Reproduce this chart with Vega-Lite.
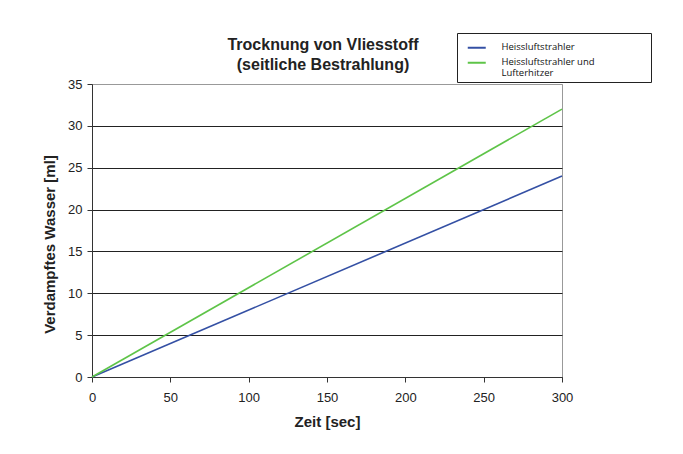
{
  "$schema": "https://vega.github.io/schema/vega-lite/v6.json",
  "width": 470,
  "height": 293,
  "autosize": "none",
  "padding": {"left": 92, "top": 84, "right": 121, "bottom": 77},
  "background": "white",
  "title": {
    "text": ["Trocknung von Vliesstoff", "(seitliche Bestrahlung)"],
    "anchor": "middle",
    "frame": "group",
    "font": "Liberation Sans",
    "fontSize": 16,
    "fontWeight": "bold",
    "color": "#222",
    "lineHeight": 20,
    "offset": 8,
    "dx": -4,
    "dy": 48
  },
  "config": {
    "view": {"stroke": "#999", "strokeWidth": 1},
    "font": "Liberation Sans",
    "style": {"guide-label": {"lineHeight": 11}}
  },
  "data": {
    "values": [
      {"zeit": 0, "wasser": 0, "serie": "Heissluftstrahler"},
      {"zeit": 300, "wasser": 24, "serie": "Heissluftstrahler"},
      {"zeit": 0, "wasser": 0, "serie": "Heissluftstrahler und Lufterhitzer"},
      {"zeit": 300, "wasser": 32, "serie": "Heissluftstrahler und Lufterhitzer"}
    ]
  },
  "mark": {"type": "line", "strokeWidth": 1.6},
  "encoding": {
    "x": {
      "field": "zeit",
      "type": "quantitative",
      "scale": {"domain": [0, 300], "nice": false},
      "axis": {
        "title": "Zeit [sec]",
        "values": [0, 50, 100, 150, 200, 250, 300],
        "grid": false,
        "domainColor": "#333",
        "tickColor": "#333",
        "tickSize": 5,
        "labelFontSize": 13,
        "labelColor": "#222",
        "labelPadding": 9,
        "labelFlush": false,
        "titleFontSize": 15,
        "titleFontWeight": "bold",
        "titleColor": "#222",
        "titlePadding": 10
      }
    },
    "y": {
      "field": "wasser",
      "type": "quantitative",
      "scale": {"domain": [0, 35], "nice": false},
      "axis": {
        "title": "Verdampftes Wasser [ml]",
        "values": [0, 5, 10, 15, 20, 25, 30, 35],
        "grid": true,
        "gridColor": {"condition": {"test": "datum.value == 35", "value": "#999"}, "value": "#222"},
        "gridOpacity": 1,
        "domainColor": "#333",
        "tickColor": "#333",
        "tickSize": 5,
        "labelFontSize": 13,
        "labelColor": "#222",
        "labelPadding": 5,
        "labelFlush": false,
        "titleFontSize": 15,
        "titleFontWeight": "bold",
        "titleColor": "#222",
        "titlePadding": 10,
        "titleY": 160
      }
    },
    "color": {
      "field": "serie",
      "type": "nominal",
      "scale": {
        "domain": ["Heissluftstrahler", "Heissluftstrahler und Lufterhitzer"],
        "range": ["#3450a4", "#5ec448"]
      },
      "legend": {
        "title": null,
        "orient": "none",
        "legendX": 365,
        "legendY": -51,
        "strokeColor": "#222",
        "fillColor": "white",
        "padding": 4,
        "symbolType": "M-3,2H3",
        "symbolSize": 36,
        "symbolStrokeWidth": 2,
        "symbolOffset": 11,
        "labelFont": "Open Sans",
        "labelFontSize": 9.5,
        "labelColor": "#111",
        "labelOffset": 20,
        "labelBaseline": "top",
        "labelExpr": "datum.label == 'Heissluftstrahler und Lufterhitzer' ? ['Heissluftstrahler und\u00a0\u00a0\u00a0\u00a0\u00a0\u00a0\u00a0\u00a0\u00a0\u00a0\u00a0\u00a0\u00a0\u00a0\u00a0\u00a0\u00a0\u00a0\u00a0\u00a0\u00a0\u200b', 'Lufterhitzer'] : datum.label",
        "rowPadding": 0
      }
    }
  }
}
